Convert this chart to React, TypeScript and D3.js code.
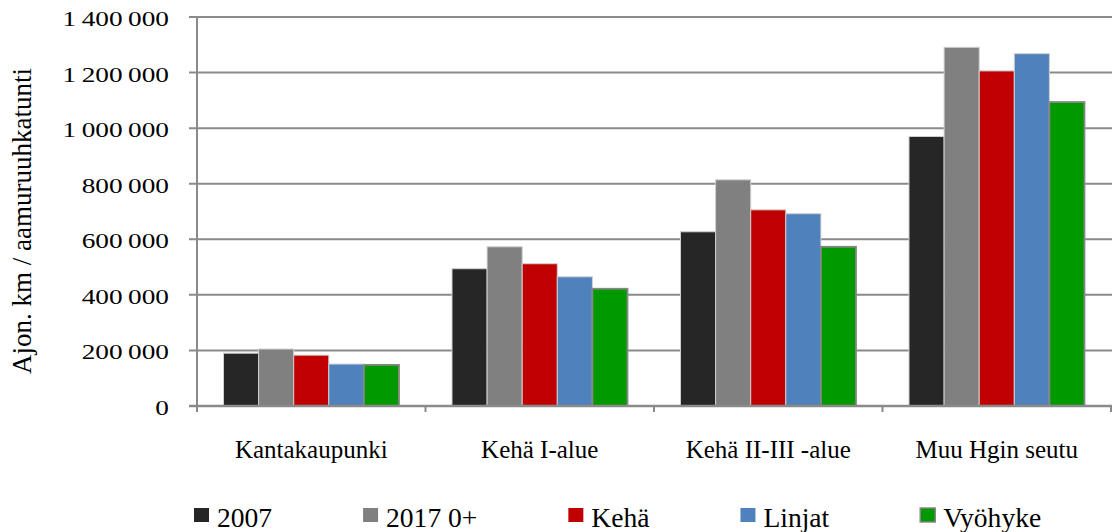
import React, { useEffect, useRef } from "react";
import * as d3 from "d3";

const categories = ["Kantakaupunki", "Kehä I-alue", "Kehä II-III -alue", "Muu Hgin seutu"];
const series = ["2007", "2017 0+", "Kehä", "Linjat", "Vyöhyke"];
const colors = ["#262626", "#808080", "#c00000", "#4f81bd", "#009900"];

// values per series, same order as categories
const v2007 = [190000, 494000, 627000, 970000];
const v2017 = [205000, 573000, 814000, 1291000];
const vKeha = [183000, 512000, 706000, 1206000];
const vLinjat = [151000, 465000, 692000, 1268000];
const vVyohyke = [148000, 422000, 573000, 1094000];

const yTicks = [0, 200000, 400000, 600000, 800000, 1000000, 1200000, 1400000];

const FONT = "Liberation Serif, Tinos, Times New Roman, DejaVu Serif, serif";

const App = () => {
  const svgRef = useRef<SVGSVGElement>(null);

  useEffect(() => {
    const svg = d3.select(svgRef.current);
    svg.selectAll("*").remove();

    const values = [v2007, v2017, vKeha, vLinjat, vVyohyke];
    const left = 197;
    const right = 1111;

    const x = d3.scaleBand().domain(categories).range([left, right]).padding(0);
    const inner = d3
      .scaleBand()
      .domain(series)
      .range([26.5, x.bandwidth() - 26.5])
      .padding(0);
    const y = d3.scaleLinear().domain([0, 1400000]).range([406, 17]);

    const fmt = (d: number) => d3.format(",")(d).replace(/,/g, "\u2009");

    // gridlines + y ticks
    svg
      .append("g")
      .selectAll("line")
      .data(yTicks)
      .join("line")
      .attr("x1", left - 8)
      .attr("x2", right + 1)
      .attr("y1", (d) => y(d))
      .attr("y2", (d) => y(d))
      .attr("stroke", "#8a8a8a")
      .attr("stroke-width", 2);

    svg
      .append("g")
      .selectAll("text")
      .data(yTicks)
      .join("text")
      .attr("transform", (d) => `translate(169,${y(d) + 9}) scale(1.3,1)`)
      .attr("text-anchor", "end")
      .attr("font-family", FONT)
      .attr("font-size", 21)
      .attr("fill", "#000")
      .text((d) => fmt(d));

    // bars
    const g = svg.append("g");
    series.forEach((s, si) => {
      g.append("g")
        .selectAll("rect")
        .data(values[si])
        .join("rect")
        .attr("x", (d, i) => (x(categories[i]) as number) + (inner(s) as number))
        .attr("y", (d) => y(d))
        .attr("width", inner.bandwidth())
        .attr("height", (d) => y(0) - y(d))
        .attr("fill", colors[si])
        .attr("stroke", s === "Vyöhyke" ? "#878787" : "#cfcfcf")
        .attr("stroke-width", s === "Vyöhyke" ? 1.8 : 1);
    });

    // axes lines
    svg
      .append("line")
      .attr("x1", left)
      .attr("x2", left)
      .attr("y1", y(1400000))
      .attr("y2", y(0) + 6)
      .attr("stroke", "#8a8a8a")
      .attr("stroke-width", 2);
    svg
      .append("line")
      .attr("x1", left - 8)
      .attr("x2", right + 1)
      .attr("y1", y(0))
      .attr("y2", y(0))
      .attr("stroke", "#8a8a8a")
      .attr("stroke-width", 2.5);
    svg
      .append("g")
      .selectAll("line")
      .data([...categories.map((c) => x(c) as number), right])
      .join("line")
      .attr("x1", (d) => d)
      .attr("x2", (d) => d)
      .attr("y1", y(0))
      .attr("y2", y(0) + 6)
      .attr("stroke", "#8a8a8a")
      .attr("stroke-width", 2);

    // category labels
    svg
      .append("g")
      .selectAll("text")
      .data(categories)
      .join("text")
      .attr("x", (d) => (x(d) as number) + x.bandwidth() / 2)
      .attr("y", 458)
      .attr("text-anchor", "middle")
      .attr("font-family", FONT)
      .attr("font-size", 25)
      .text((d) => d);

    // y title
    svg
      .append("text")
      .attr("transform", "translate(31,221) rotate(-90)")
      .attr("text-anchor", "middle")
      .attr("font-family", FONT)
      .attr("font-size", 27)
      .text("Ajon. km / aamuruuhkatunti");

    // legend
    const lg = svg.append("g");
    let lx = 194;
    series.forEach((s, si) => {
      lg.append("rect")
        .attr("x", lx)
        .attr("y", 508)
        .attr("width", 15)
        .attr("height", 14)
        .attr("fill", colors[si])
        .attr("stroke", s === "Vyöhyke" ? "#878787" : "none")
        .attr("stroke-width", 1.5);
      const t = lg
        .append("text")
        .attr("transform", `translate(${lx + 23},527) scale(1.04,1)`)
        .attr("font-family", FONT)
        .attr("font-size", 26.5)
        .text(s);
      const w = (t.node() as SVGTextElement).getComputedTextLength() * 1.04;
      lx = lx + 23 + w + 91;
    });
  }, []);

  return (
    <svg
      ref={svgRef}
      width={1112}
      height={532}
      style={{ position: "absolute", left: 0, top: 0, background: "#fff" }}
    />
  );
};

export default App;
